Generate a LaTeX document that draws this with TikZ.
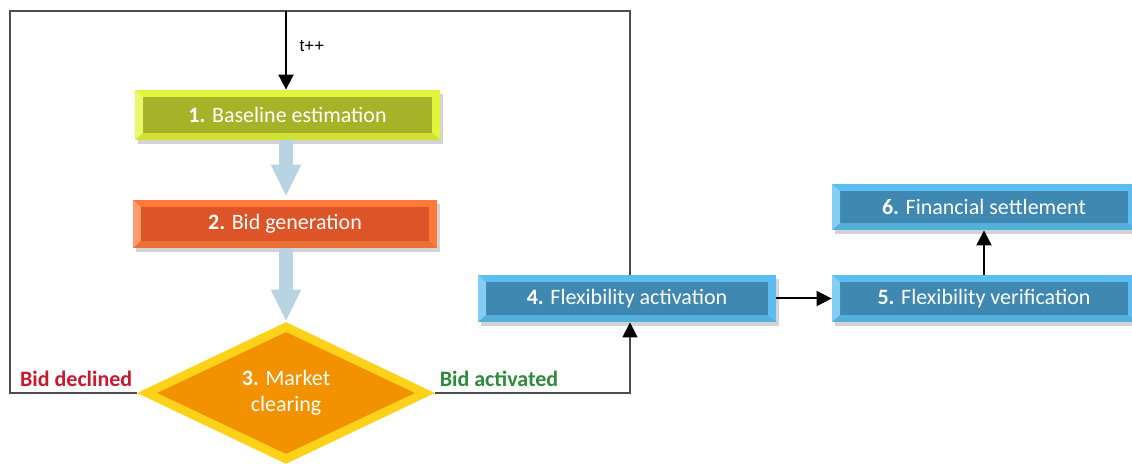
\documentclass[tikz,border=0pt]{standalone}
\usepackage{fontspec}
\setmainfont{Carlito}
\newfontfamily\tlabelfont{Liberation Sans}
\usetikzlibrary{arrows.meta,shapes.geometric,shadows}
\definecolor{limeout}{HTML}{E3F53A}
\definecolor{limein}{HTML}{A6B328}
\definecolor{orangeout}{HTML}{FF7A3A}
\definecolor{orangein}{HTML}{DC5427}
\definecolor{goldout}{HTML}{FFD21A}
\definecolor{goldin}{HTML}{F39200}
\definecolor{blueout}{HTML}{5CBEF0}
\definecolor{bluein}{HTML}{3F88B2}
\definecolor{fatblue}{HTML}{B8D4E2}
\definecolor{declined}{HTML}{C8192E}
\definecolor{activated}{HTML}{2E8B3A}
\definecolor{loopgray}{HTML}{4D4D4D}
\begin{document}
\begin{tikzpicture}[x=0.5pt,y=-0.5pt,font=\fontsize{11}{13}\selectfont]
\tikzstyle{stage}=[fill=#1, text=white, inner sep=0pt, minimum width=152pt, minimum height=24pt,
  drop shadow={opacity=0.35,shadow xshift=1.5pt,shadow yshift=-2pt}]
\tikzstyle{inset}=[path picture={
  \fill[#1] ([shift={(4pt,-3.5pt)}]path picture bounding box.north west) rectangle ([shift={(-4pt,3.5pt)}]path picture bounding box.south east);
  \fill[white,opacity=0.25] (path picture bounding box.north west) -- ([shift={(4pt,-3.5pt)}]path picture bounding box.north west)
    -- ([shift={(4pt,3.5pt)}]path picture bounding box.south west) -- (path picture bounding box.south west) -- cycle;
  \fill[black,opacity=0.08] (path picture bounding box.south west) -- ([shift={(4pt,3.5pt)}]path picture bounding box.south west)
    -- ([shift={(-4pt,3.5pt)}]path picture bounding box.south east) -- (path picture bounding box.south east) -- cycle;}]
\tikzstyle{decision}=[shape=diamond, fill=goldout, text=white, inner sep=0pt, align=center,
  minimum width=149pt, minimum height=71pt, path picture={
  \fill[goldin] ([yshift=-5pt]path picture bounding box.north) -- ([xshift=10pt]path picture bounding box.west)
    -- ([yshift=5pt]path picture bounding box.south) -- ([xshift=-10pt]path picture bounding box.east) -- cycle;}]
\tikzstyle{fat}=[line width=7pt, fatblue, -{Triangle[length=16pt,width=14pt]}]
\tikzstyle{line}=[loopgray, line width=0.7pt]
\tikzstyle{arr}=[-{Triangle[length=7.5pt,width=7.5pt,black]}]
\useasboundingbox (0,0) rectangle (1132,464);

% stages
\node[stage=limeout, inset=limein, minimum width=152.5pt, minimum height=25pt] (b1) at (287.5,115) {\textbf{1.} Baseline estimation};
\node[stage=orangeout, inset=orangein] (b2) at (285,224) {\textbf{2.} Bid generation};
\node[decision] (d3) at (286,393) {\textbf{3.} Market\\clearing};
\node[stage=blueout, inset=bluein, minimum width=149pt, minimum height=23.5pt] (b4) at (627,298.5) {\textbf{4.} Flexibility activation};
\node[stage=blueout, inset=bluein, minimum height=23.5pt] (b5) at (984,298.5) {\textbf{5.} Flexibility verification};
\node[stage=blueout, inset=bluein, minimum height=23pt] (b6) at (984,207) {\textbf{6.} Financial settlement};

% loop corners
\coordinate (tl) at (10,11);
\coordinate (tr) at (630,11);
\coordinate (bl) at (10,393);
\coordinate (br) at (630,393);
\coordinate (top) at (286,11);

\draw[fat, shorten >=1.5pt] (top |- b1.south) -- (top |- b2.north);
\draw[fat] (top |- b2.south) -- (d3.north);

\draw[line] (d3.west) -- (bl) -- (tl) -- (tr) -- (tr |- b4.north);
\draw[arr, line width=1pt] (top) -- (top |- b1.north) node[pos=0.45, right=3pt, text=black] {\tlabelfont\fontsize{8.5}{10}\selectfont t++};
\draw[line, arr] (d3.east) -- (br) -- (br |- b4.south);
\draw[arr, line width=1pt] (b4) -- (b5);
\draw[arr, line width=1pt] (b5) -- (b6);

\node[anchor=south east, inner sep=2pt, text=declined] (declined) at ([yshift=1pt]d3.west) {\textbf{Bid declined}};
\node[anchor=south west, inner sep=2pt, text=activated] (activated) at ([yshift=1pt]d3.east) {\textbf{Bid activated}};
\end{tikzpicture}
\end{document}
